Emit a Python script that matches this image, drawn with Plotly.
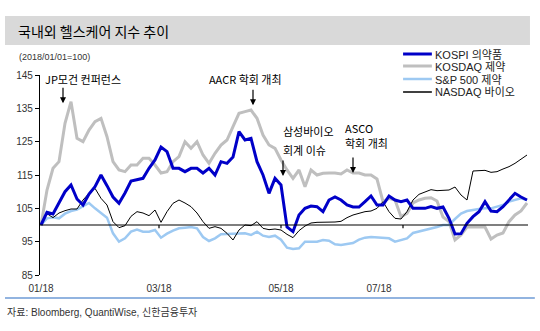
import pandas as pd
import plotly.graph_objects as go

# Index level, 2018-01-01 = 100, sampled every 3 calendar days
dates = pd.date_range("2018-01-01", periods=82, freq="3D")

kospi_pharma = [
    100, 103.8, 103.3, 106.5, 110, 112, 107.8, 106, 109.3, 111.5,
    115, 111.8, 108.4, 106.5, 109.6, 113.2, 113.5, 114, 117, 119.5,
    123.4, 122, 117, 117, 116, 117, 117, 115.6, 117, 115,
    119, 118.5, 120.4, 128, 125.5, 126, 119, 115, 109.5, 114,
    112, 99.4, 98, 103, 105, 105.7, 105.5, 104, 107.5, 108.4,
    107.5, 106, 105.4, 105.4, 107, 108.7, 106, 106, 108.7, 107.5,
    107, 107.5, 105, 105, 105, 105.5, 105, 105.4, 102, 97.3,
    97.4, 100.5, 102.5, 104, 107, 104.2, 104, 105.5, 107.5, 109.5,
    108.4, 107.5,
]
kosdaq_pharma = [
    100, 110.5, 117, 119, 130.5, 137, 126, 125, 128.5, 131,
    132, 126.5, 119, 116.5, 116, 118, 118, 120, 120, 118,
    115.6, 116, 119, 120.5, 125, 123, 125, 121, 118.5, 121.5,
    124, 125.5, 129.5, 133.5, 134, 134.5, 132, 127, 124, 123,
    119.5, 116.5, 114, 116.5, 111.5, 116.5, 115, 115.5, 115.6, 115.6,
    115.3, 116.5, 115.6, 115.6, 115, 115, 113.8, 107, 108, 107.5,
    102.5, 103.5, 106.6, 107.5, 108, 108.2, 107.2, 102.4, 101, 95.5,
    97, 99.4, 99.4, 99.4, 99.4, 95.8, 97, 97.6, 101, 103,
    104.2, 106.6,
]
sp500_pharma = [
    100, 102, 102.3, 102, 103.4, 104.2, 104.6, 105.5, 106.6, 105,
    103.6, 102.2, 97.5, 95, 96, 98, 98.6, 98, 98, 98.5,
    96.2, 97.4, 98.3, 99, 99.2, 99.4, 99, 96.4, 95.2, 96,
    97.2, 97.3, 97.3, 97.3, 97.5, 97, 98, 96.8, 96.4, 96.8,
    95.6, 93.2, 92.8, 93, 95, 95, 95, 95.5, 95.3, 94.2,
    94, 94.3, 94.6, 95.6, 96.2, 96.4, 96.2, 96, 96, 95,
    95.5, 96, 97.6, 98, 98.5, 99, 99.4, 100, 100, 101.8,
    103.4, 104.2, 104.6, 104.8, 105, 105, 105.5, 106, 107, 107.5,
    108, 107.5,
]
nasdaq_bio = [
    100, 103.4, 102.2, 103.6, 104.3, 104.8, 104.8, 107.5, 109.5, 111,
    108, 106, 101, 99.2, 99.8, 102.6, 104, 103.6, 102.8, 104.5,
    100.8, 104, 106.5, 107.5, 106.6, 105.5, 103.6, 101, 99, 99.5,
    99, 97.5, 95.5, 98.5, 100, 99.8, 101, 99, 98.6, 98.8,
    98.5, 97.2, 96.2, 98.3, 99.7, 100.6, 100.8, 100.8, 100.8, 100.9,
    101.1, 102.2, 103, 103.6, 104, 104.2, 105, 107, 104, 102,
    101.8, 104, 107.5, 109.2, 110, 110.6, 110.3, 110.5, 110.5, 111.4,
    109, 107.5, 116.2, 116.3, 116.4, 115.8, 116, 116.8, 117.5, 118.5,
    119.8, 121,
]

series = [
    ("KOSPI 의약품", kospi_pharma, "#0000C8", 3),
    ("KOSDAQ 제약", kosdaq_pharma, "#BFBFBF", 3),
    ("S&P 500 제약", sp500_pharma, "#9DC9F2", 2.5),
    ("NASDAQ 바이오", nasdaq_bio, "#000000", 1),
]

# month marks on the 100 line, and where the month labels sit under the axis
tick_dates = ["2018-01-01", "2018-03-01", "2018-05-01", "2018-07-01"]
label_dates = ["2018-01-01", "2018-03-01", "2018-05-01", "2018-06-19"]
tick_text = ["01/18", "03/18", "05/18", "07/18"]

LATIN = "Arial, 'Liberation Sans', sans-serif"
KOR = "'Malgun Gothic', 'Noto Sans CJK KR', sans-serif"

fig = go.Figure()
# draw order: grey / light blue underneath, then black, blue on top
for idx in [1, 2, 3, 0]:
    name, vals, color, width = series[idx]
    fig.add_trace(go.Scatter(
        x=dates, y=vals, mode="lines", name=name,
        line=dict(color=color, width=width), showlegend=False,
    ))

shapes = []
annotations = []

# title band
shapes.append(dict(type="rect", xref="paper", yref="paper",
                   x0=-0.0717, x1=1.004, y0=1.15, y1=1.295,
                   fillcolor="#D9D9D9", line=dict(width=0), layer="below"))
annotations.append(dict(text="국내외 헬스케어 지수 추이", xref="paper", yref="paper",
                        x=-0.049, y=1.22, xanchor="left", yanchor="middle",
                        showarrow=False, font=dict(family=KOR, size=14, color="#000000")))
annotations.append(dict(text="(2018/01/01=100)", xref="paper", yref="paper",
                        x=-0.047, y=1.09, xanchor="left", yanchor="middle",
                        showarrow=False, font=dict(family=LATIN, size=9, color="#333333")))

# base line at 100 with month ticks
shapes.append(dict(type="line", xref="paper", yref="y", x0=0, x1=1, y0=100, y1=100,
                   line=dict(color="#000000", width=1.2)))
for d in tick_dates[1:]:
    shapes.append(dict(type="line", xref="x", yref="y", x0=d, x1=d, y0=100, y1=99.0,
                       line=dict(color="#000000", width=1.2)))

# custom legend
leg_y = [1.105, 1.045, 0.98, 0.915]
for (name, _, color, width), ly in zip(series, leg_y):
    shapes.append(dict(type="line", xref="paper", yref="paper",
                       x0=0.744, x1=0.803, y0=ly, y1=ly,
                       line=dict(color=color, width=width if width > 1 else 1.5)))
    annotations.append(dict(text=name, xref="paper", yref="paper", x=0.806, y=ly,
                            xanchor="left", yanchor="middle", showarrow=False,
                            font=dict(family=LATIN + ", " + KOR, size=11, color="#222222")))

# event call-outs
ev_font = dict(family=KOR, size=11, color="#000000")
arrows = [("2018-01-12", 136.5), ("2018-04-17", 135.9), ("2018-05-02", 114.7), ("2018-06-06", 115.6)]
for ax_x, ax_y in arrows:
    annotations.append(dict(x=ax_x, y=ax_y, xref="x", yref="y", text="", showarrow=True,
                            ax=0, ay=-17, arrowhead=2, arrowsize=1, arrowwidth=1.2,
                            arrowcolor="#000000"))
labels = [
    ("JP모건 컨퍼런스", "2018-01-22", 143.7, "center"),
    ("AACR 학회 개최", "2018-04-13", 143.7, "center"),
    ("삼성바이오", "2018-05-01", 128.3, "left"),
    ("회계 이슈", "2018-05-01", 122.5, "left"),
    ("ASCO", "2018-06-01", 129.2, "left"),
    ("학회 개최", "2018-06-01", 124.7, "left"),
]
for txt, lx, ly, anc in labels:
    annotations.append(dict(text=txt, x=lx, y=ly, xref="x", yref="y", xanchor=anc,
                            yanchor="middle", showarrow=False, font=ev_font))

# source line
shapes.append(dict(type="line", xref="paper", yref="paper", x0=-0.0717, x1=1.014,
                   y0=-0.115, y1=-0.115, line=dict(color="#6E9BD6", width=1.5)))
annotations.append(dict(text="자료: Bloomberg, QuantiWise, 신한금융투자", xref="paper", yref="paper",
                        x=-0.0717, y=-0.185, xanchor="left", yanchor="middle", showarrow=False,
                        font=dict(family=LATIN + ", " + KOR, size=10, color="#333333")))

fig.update_layout(
    width=540, height=331,
    margin=dict(l=40, r=12, t=75, b=56),
    paper_bgcolor="#FFFFFF", plot_bgcolor="#FFFFFF",
    shapes=shapes, annotations=annotations,
    showlegend=False,
    font=dict(family=LATIN, size=10, color="#333333"),
)
fig.update_xaxes(
    type="date", range=["2017-12-31 12:00", "2018-09-01 12:00"],
    tickvals=label_dates, ticktext=tick_text,
    showline=False, showgrid=False, zeroline=False, ticks="",
    ticklabelstandoff=6,
    tickfont=dict(family=LATIN, size=10, color="#333333"),
)
fig.update_yaxes(
    range=[85, 145], tickvals=[85, 95, 105, 115, 125, 135, 145],
    showline=True, linecolor="#000000", linewidth=1.2,
    ticks="outside", ticklen=4, tickcolor="#000000",
    showgrid=False, zeroline=False,
    tickfont=dict(family=LATIN, size=10, color="#333333"),
)

fig.write_html("out.html")
